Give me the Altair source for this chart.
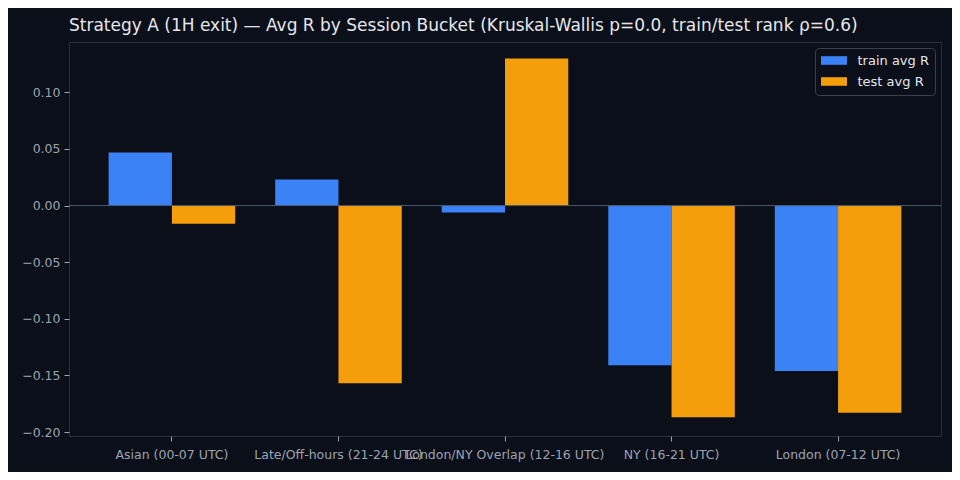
import altair as alt
import pandas as pd

categories = ["Asian (00-07 UTC)", "Late/Off-hours (21-24 UTC)", "London/NY Overlap (12-16 UTC)",
              "NY (16-21 UTC)", "London (07-12 UTC)"]
series = ["train avg R", "test avg R"]
train_vals = [0.047, 0.023, -0.006, -0.141, -0.146]
test_vals = [-0.016, -0.157, 0.130, -0.187, -0.183]
y_ticks = [-0.20, -0.15, -0.10, -0.05, 0.00, 0.05, 0.10]

rows = []
for c, t, s in zip(categories, train_vals, test_vals):
    rows.append({"cat": c, "series": series[0], "val": t})
    rows.append({"cat": c, "series": series[1], "val": s})
df = pd.DataFrame(rows)

BG = "#0b0f19"
TXT = "#9ca3af"

bars = alt.Chart(df).mark_bar().encode(
    x=alt.X("cat:N", sort=categories, title=None,
            scale=alt.Scale(paddingInner=0.24, paddingOuter=0.238),
            axis=alt.Axis(labelAngle=0, labelOverlap=False, labelLimit=0, labelColor=TXT,
                          labelFontSize=12.5, labelFont="DejaVu Sans", tickColor=TXT, tickSize=5,
                          labelPadding=7, domain=False, grid=False)),
    xOffset=alt.XOffset("series:N", sort=series, scale=alt.Scale(paddingInner=0, paddingOuter=0)),
    y=alt.Y("val:Q", title=None,
            scale=alt.Scale(domain=[-0.2035, 0.1445], nice=False, zero=False),
            axis=alt.Axis(values=y_ticks, format=".2f", labelColor=TXT, labelFontSize=12.5,
                          labelFont="DejaVu Sans", tickColor=TXT, tickSize=5, labelPadding=4,
                          domain=False, grid=False)),
    color=alt.Color("series:N", sort=series,
                    scale=alt.Scale(domain=series, range=["#3b82f6", "#f59e0b"]),
                    legend=alt.Legend(title=None, orient="top-right", offset=6,
                                      fillColor=BG, strokeColor="#3a404d", cornerRadius=4,
                                      padding=6, symbolType="M-2,-0.66H2V0.66H-2Z",
                                      symbolSize=169, symbolOffset=6.5, symbolStrokeWidth=0,
                                      symbolOpacity=1,
                                      labelColor="#e5e7eb", labelFontSize=13,
                                      labelFont="DejaVu Sans", labelOffset=17, rowPadding=7)),
)

zero = alt.Chart(pd.DataFrame({"z": [0.0]})).mark_rule(color="#4b5a70", strokeWidth=1).encode(
    y=alt.Y("z:Q")
)

chart = alt.layer(bars, zero).properties(
    width=872, height=394,
    autosize=alt.AutoSizeParams(type="none"),
    padding={"left": 61, "top": 34, "right": 11, "bottom": 36},
    background=BG,
    title=alt.Title("Strategy A (1H exit) — Avg R by Session Bucket (Kruskal-Wallis p=0.0, train/test rank ρ=0.6)",
                    anchor="start", frame="group", color="#e5e7eb", fontSize=17,
                    font="DejaVu Sans", fontWeight="normal", offset=7),
).configure_view(stroke="#2a2f3b", fill=BG)

chart.save("out.html", embed_options={"renderer": "svg", "actions": False})
